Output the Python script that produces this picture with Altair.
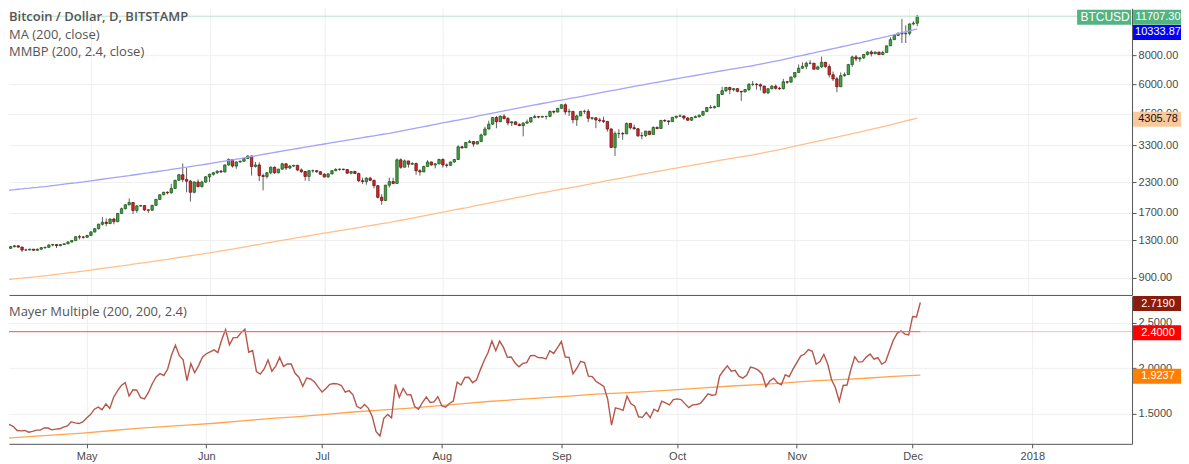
import altair as alt
import pandas as pd

# ---------------- data ----------------
START = "2017-04-09"          # first daily candle
first_open = 1180

close = [
    1200, 1220, 1230, 1215, 1180, 1182, 1190, 1178, 1190, 1208,
    1212, 1240, 1245, 1232, 1245, 1255, 1278, 1295, 1345, 1340,
    1338, 1362, 1410, 1455, 1520, 1550, 1530, 1600, 1560, 1690,
    1770, 1840, 1880, 1740, 1820, 1825, 1750, 1745, 1830, 1940,
    2030, 2080, 2070, 2160, 2340, 2470, 2360, 2320, 2080, 2300,
    2200, 2300, 2420, 2480, 2520, 2560, 2540, 2720, 2870, 2690,
    2800, 2820, 2900, 2970, 2680, 2720, 2450, 2430, 2520, 2660,
    2520, 2610, 2750, 2640, 2690, 2710, 2590, 2550, 2430, 2570,
    2570, 2545, 2480, 2420, 2490, 2570, 2600, 2610, 2600, 2510,
    2550, 2500, 2330, 2310, 2390, 2340, 2220, 1980, 1920, 2230,
    2310, 2270, 2860, 2660, 2830, 2740, 2760, 2570, 2540, 2680,
    2800, 2720, 2750, 2870, 2720, 2710, 2800, 2870, 3250, 3220,
    3390, 3420, 3340, 3420, 3650, 3870, 4060, 4330, 4160, 4390,
    4290, 4110, 4150, 4050, 4000, 4100, 4150, 4330, 4370, 4350,
    4380, 4380, 4600, 4570, 4740, 4910, 4580, 4600, 4240, 4400,
    4600, 4600, 4300, 4320, 4230, 4200, 4170, 3870, 3230, 3700,
    3700, 3690, 4090, 3920, 3880, 3620, 3630, 3790, 3670, 3930,
    3890, 4210, 4190, 4160, 4340, 4390, 4400, 4310, 4220, 4330,
    4370, 4430, 4600, 4780, 4770, 4820, 5430, 5640, 5820, 5690,
    5750, 5600, 5570, 5700, 6000, 6000, 5980, 5900, 5520, 5750,
    5890, 5770, 5750, 6150, 6130, 6450, 6740, 7030, 7160, 7380,
    7380, 6960, 7120, 7450, 7140, 6590, 6330, 5860, 6530, 6600,
    7280, 7850, 7700, 7780, 8040, 8240, 8100, 8230, 8030, 8200,
    8750, 9300, 9700, 9900, 9850, 9900, 10850, 10930, 11707.30,
]

high = [
    1215, 1230, 1240, 1235, 1218, 1195, 1195, 1192, 1196, 1215,
    1220, 1250, 1255, 1250, 1250, 1260, 1285, 1305, 1350, 1370,
    1355, 1370, 1420, 1465, 1530, 1630, 1610, 1610, 1620, 1700,
    1790, 1850, 1960, 1890, 1835, 1840, 1830, 1760, 1840, 1950,
    2040, 2090, 2100, 2260, 2350, 2490, 2760, 2640, 2350, 2320,
    2360, 2330, 2440, 2500, 2540, 2580, 2590, 2730, 2900, 2880,
    2820, 2840, 2910, 2990, 2980, 2800, 2790, 2500, 2540, 2680,
    2680, 2620, 2780, 2770, 2720, 2720, 2720, 2630, 2560, 2590,
    2600, 2590, 2560, 2510, 2510, 2590, 2640, 2630, 2620, 2610,
    2560, 2570, 2520, 2400, 2410, 2420, 2350, 2230, 2040, 2240,
    2400, 2400, 2900, 2900, 2870, 2830, 2790, 2780, 2610, 2700,
    2850, 2810, 2760, 2890, 2900, 2760, 2810, 2880, 3300, 3280,
    3400, 3480, 3430, 3440, 3700, 3960, 4200, 4340, 4400, 4420,
    4480, 4360, 4180, 4180, 4090, 4130, 4250, 4350, 4450, 4380,
    4400, 4400, 4630, 4640, 4760, 4930, 4980, 4720, 4600, 4450,
    4620, 4680, 4700, 4360, 4310, 4320, 4370, 4170, 3900, 3780,
    3860, 3760, 4120, 4100, 4040, 3890, 3750, 3800, 3780, 3970,
    3970, 4230, 4260, 4210, 4360, 4400, 4470, 4420, 4350, 4360,
    4420, 4460, 4620, 4800, 4900, 4870, 5440, 5860, 5840, 5850,
    5790, 5780, 5600, 5730, 6070, 6200, 6080, 6050, 5900, 5760,
    5960, 5990, 5850, 6330, 6180, 6460, 6760, 7300, 7440, 7500,
    7600, 7400, 7210, 7880, 7450, 7300, 6800, 6460, 6740, 6740,
    7330, 7950, 8000, 7850, 8090, 8290, 8370, 8280, 8260, 8340,
    8770, 9520, 9720, 9980, 11400, 10700, 10900, 11150, 11850,
]

low = [
    1175, 1195, 1210, 1205, 1160, 1170, 1175, 1170, 1170, 1185,
    1195, 1205, 1225, 1205, 1225, 1240, 1250, 1270, 1290, 1310,
    1320, 1330, 1355, 1400, 1445, 1500, 1490, 1525, 1520, 1550,
    1680, 1760, 1830, 1680, 1700, 1800, 1730, 1700, 1735, 1820,
    1930, 2020, 2040, 2050, 2150, 2330, 2300, 2080, 1900, 2060,
    2180, 2180, 2280, 2300, 2450, 2490, 2510, 2530, 2700, 2650,
    2620, 2780, 2810, 2880, 2450, 2650, 2320, 2120, 2380, 2480,
    2490, 2500, 2600, 2590, 2610, 2670, 2560, 2510, 2330, 2320,
    2520, 2520, 2470, 2400, 2390, 2480, 2560, 2570, 2580, 2490,
    2480, 2495, 2300, 2260, 2240, 2320, 2160, 1960, 1840, 1910,
    2180, 2250, 2260, 2620, 2660, 2650, 2720, 2470, 2450, 2540,
    2680, 2700, 2630, 2740, 2650, 2650, 2700, 2780, 2860, 3180,
    3220, 3380, 3250, 3330, 3410, 3620, 3850, 4030, 3900, 4140,
    4250, 4010, 3980, 4030, 3980, 3600, 4080, 4120, 4300, 4300,
    4330, 4250, 4350, 4500, 4560, 4730, 4460, 4400, 4090, 3990,
    4400, 4490, 4140, 4230, 3900, 4130, 4100, 3770, 3220, 2970,
    3540, 3480, 3690, 3850, 3850, 3580, 3500, 3580, 3640, 3670,
    3860, 3890, 4140, 4030, 4160, 4280, 4370, 4240, 4200, 4200,
    4320, 4330, 4410, 4560, 4730, 4730, 4810, 5400, 5560, 5450,
    5600, 5550, 5100, 5550, 5620, 5900, 5700, 5650, 5480, 5450,
    5700, 5700, 5680, 5700, 6030, 6110, 6370, 6740, 7000, 6960,
    7300, 6950, 6950, 7050, 7060, 6420, 6200, 5550, 5850, 6470,
    6600, 7120, 7520, 7480, 7700, 7960, 7890, 8100, 8020, 8000,
    8180, 8750, 9300, 9640, 9000, 9000, 9700, 10700, 10600,
]

ma200 = [
    882,
    886, 889, 893, 896, 900, 903, 907, 910, 914, 917,
    921, 926, 930, 934, 939, 943, 947, 951, 956, 960,
    965, 970, 975, 980, 985, 990, 995, 1000, 1005, 1010,
    1016, 1021, 1027, 1032, 1038, 1044, 1049, 1055, 1060, 1066,
    1072, 1078, 1085, 1091, 1097, 1103, 1109, 1116, 1122, 1128, 1134,
    1141, 1149, 1156, 1163, 1170, 1177, 1185, 1192, 1199,
    1207, 1215, 1224, 1232, 1240, 1248, 1256, 1265, 1273, 1281,
    1290, 1298, 1307, 1315, 1324, 1332, 1341, 1349, 1358, 1366,
    1375, 1384, 1392, 1401, 1410, 1419, 1428, 1436, 1445, 1454,
    1463, 1472, 1482, 1491, 1500, 1509, 1518, 1528, 1537, 1546,
    1558, 1569, 1581, 1592, 1604, 1615, 1627, 1638, 1650, 1661,
    1674, 1686, 1699, 1711, 1724, 1736, 1749, 1761, 1774, 1786,
    1800, 1814, 1828, 1842, 1856, 1870, 1884, 1898, 1912, 1926, 1940,
    1955, 1969, 1984, 1998, 2013, 2027, 2042, 2056, 2071,
    2085, 2100, 2114, 2129, 2143, 2158, 2172, 2187, 2201, 2216,
    2232, 2249, 2265, 2282, 2298, 2315, 2331, 2348, 2364, 2381,
    2398, 2415, 2432, 2449, 2466, 2483, 2500, 2517, 2534, 2551,
    2569, 2586, 2604, 2621, 2639, 2656, 2674, 2691, 2709, 2726,
    2745, 2763, 2782, 2800, 2819, 2837, 2856, 2874,
    2892, 2910, 2928, 2946, 2964, 2982, 3000,
    3023, 3046, 3069, 3092, 3115, 3138, 3161,
    3188, 3215, 3242, 3269, 3296, 3323, 3350,
    3378, 3406, 3434, 3462, 3490, 3518, 3546,
    3576, 3606, 3636, 3666, 3696, 3726, 3756,
    3790, 3824, 3858, 3892, 3926, 3960, 3994,
    4033, 4072, 4111, 4150, 4189, 4228, 4267, 4305.78,
]

# smooth orange line of the lower panel, read once a week
mm_avg = [
    1.228, 1.25, 1.27, 1.29, 1.315, 1.34, 1.36, 1.38, 1.40, 1.425,
    1.45, 1.47, 1.495, 1.52, 1.54, 1.56, 1.585, 1.61, 1.635, 1.655,
    1.675, 1.695, 1.715, 1.73, 1.745, 1.765, 1.785, 1.805, 1.82, 1.84,
    1.86, 1.875, 1.89, 1.91, 1.9237,
]

band_mult = 2.4
price_ticks = [900, 1300, 1700, 2300, 3300, 4500, 6000, 8000]
mm_ticks = [1.5, 2.0, 2.5]
legend_top = ["Bitcoin / Dollar, D, BITSTAMP", "MA (200, close)", "MMBP (200, 2.4, close)"]
legend_bottom = "Mayer Multiple (200, 200, 2.4)"
symbol = "BTCUSD"

assert len(close) == len(high) == len(low) == len(ma200)

# ---------------- tables ----------------
EPOCH = pd.Timestamp("1970-01-01")
def to_ms(idx):
    return [int((d - EPOCH) / pd.Timedelta(milliseconds=1)) for d in idx]

dates = pd.date_range(START, periods=len(close), freq="D")
df = pd.DataFrame({
    "t": to_ms(dates),
    "open": [first_open] + close[:-1],
    "high": high,
    "low": low,
    "close": close,
    "ma": ma200,
})
df["high"] = df[["high", "open", "close"]].max(axis=1)
df["low"] = df[["low", "open", "close"]].min(axis=1)
df["band"] = df["ma"] * band_mult
df["mm"] = df["close"] / df["ma"]

avg_df = pd.DataFrame({
    "t": to_ms(pd.date_range(START, periods=len(mm_avg), freq="7D")),
    "v": mm_avg,
})

last = df.iloc[-1]
months = to_ms(pd.date_range("2017-05-01", "2018-01-01", freq="MS"))

base = pd.Timestamp(START)
x_dom = to_ms([base + pd.Timedelta(days=1.887), base + pd.Timedelta(days=292.85)])

# ---------------- styling ----------------
W = 1124
H_TOP = 287
H_BOT = 148
GRID = "#efefef"
AXC = "#555555"
LBL = "#4a4a4a"
FONT = "Liberation Sans"
UP_F, UP_S = "#45a345", "#1f5a1f"
DN_F, DN_S = "#d42a2a", "#6e1212"
TAG_X1, TAG_X2 = 1125, 1173

xscale = alt.Scale(type="utc", domain=x_dom, nice=False)
xaxis_top = alt.Axis(values=months, labels=False, ticks=False, grid=True,
                     gridColor=GRID, domainColor=AXC, orient="bottom")
xaxis_bot = alt.Axis(values=months, grid=True, gridColor=GRID, domainColor=AXC,
                     tickColor=AXC, tickSize=4, labelColor=LBL, labelFontSize=11,
                     labelFont=FONT, labelPadding=3, labelFlush=False,
                     labelExpr="utcFormat(datum.value, utcmonth(datum.value) == 0 ? '%Y' : '%b')",
                     orient="bottom")
x_top = alt.X("t:T", scale=xscale, title=None, axis=xaxis_top)
x_bot = alt.X("t:T", scale=xscale, title=None, axis=xaxis_bot)

yscale_top = alt.Scale(type="log", domain=[759.6, 12664], nice=False, zero=False)
yaxis_top = alt.Axis(orient="right", values=price_ticks, format=".2f", grid=True, gridColor=GRID,
                     domainColor=AXC, tickColor=AXC, tickSize=4, labelColor=LBL,
                     labelFontSize=11, labelFont=FONT, labelPadding=2, title=None)
yscale_bot = alt.Scale(domain=[1.1718, 2.791], nice=False, zero=False)
yaxis_bot = alt.Axis(orient="right", values=mm_ticks, format=".4f", grid=True, gridColor=GRID,
                     domainColor=AXC, tickColor=AXC, tickSize=4, labelColor=LBL,
                     labelFontSize=11, labelFont=FONT, labelPadding=2, title=None)

def yt(field):
    return alt.Y(field, scale=yscale_top, axis=yaxis_top, title=None)

def yb(field):
    return alt.Y(field, scale=yscale_bot, axis=yaxis_bot, title=None)

# ---------------- top panel ----------------
src = alt.Chart(df)
wicks = src.mark_rule(color="#5f5f5f", strokeWidth=1, clip=True).encode(
    x=x_top, y=yt("low:Q"), y2="high:Q")
up_cond = "datum.close >= datum.open"
bodies = src.mark_bar(size=2.4, strokeWidth=0.8, clip=True).encode(
    x=x_top, y=yt("open:Q"), y2="close:Q",
    fill=alt.condition(up_cond, alt.value(UP_F), alt.value(DN_F)),
    stroke=alt.condition(up_cond, alt.value(UP_S), alt.value(DN_S)))
ma_line = src.mark_line(color="#ffc08c", strokeWidth=1.3, clip=True).encode(x=x_top, y=yt("ma:Q"))
band_line = src.mark_line(color="#a3a3f7", strokeWidth=1.3, clip=True).encode(x=x_top, y=yt("band:Q"))

price_df = pd.DataFrame({"v": [last["close"]]})
price_line = alt.Chart(price_df).mark_rule(color="#b4e4cb", strokeWidth=1).encode(y=yt("v:Q"))

def tag(value, text, bg, fg, x1, x2, yoff=0.0, fs=11):
    d = pd.DataFrame({"v": [value], "txt": [text]})
    box = alt.Chart(d).mark_rect(color=bg, yOffset=yoff - 7.5, y2Offset=yoff + 7.5).encode(
        y=alt.Y("v:Q"), y2=alt.Y2("v:Q"), x=alt.value(x1), x2=alt.value(x2))
    lab = alt.Chart(d).mark_text(color=fg, fontSize=fs, font=FONT, align="center",
                                 baseline="middle", yOffset=yoff).encode(
        y=alt.Y("v:Q"), x=alt.value((x1 + x2) / 2 + 1), text="txt:N")
    return box, lab

tags_top = []
tags_top += tag(last["close"], f"{last['close']:.2f}", "#53b483", "white", TAG_X1, TAG_X2, 1.0)
tags_top += tag(last["band"], f"{last['band']:.2f}", "#0000ff", "white", TAG_X1, TAG_X2, 3.5)
tags_top += tag(last["ma"], f"{last['ma']:.2f}", "#f9c89c", "#111111", TAG_X1, TAG_X2, 1.0)
tags_top += tag(last["close"], symbol, "#53b483", "white", 1069, 1123, 1.0, 12)

legend_layers = []
for i, txt in enumerate(legend_top):
    legend_layers.append(
        alt.Chart(pd.DataFrame({"txt": [txt]})).mark_text(
            align="left", baseline="middle", fontSize=13, font="Open Sans",
            fontWeight=600 if i == 0 else 400, color="#555555").encode(
            x=alt.value(0), y=alt.value(9 + 17.5 * i), text="txt:N"))

top = alt.layer(wicks, bodies, ma_line, band_line, price_line, *tags_top, *legend_layers).properties(
    width=W, height=H_TOP)

# ---------------- bottom panel ----------------
mm_line = src.mark_line(color="#b5574b", strokeWidth=1.4, clip=True).encode(x=x_bot, y=yb("mm:Q"))
avg_line = alt.Chart(avg_df).mark_line(color="#ffa54f", strokeWidth=1.3, clip=True).encode(
    x=x_bot, y=yb("v:Q"))
lvl_df = pd.DataFrame({"v": [band_mult]})
lvl_faint = alt.Chart(lvl_df).mark_rule(color="#ffb8b8", strokeWidth=1).encode(y=yb("v:Q"))
seg_df = pd.DataFrame({"t0": [int(df["t"].iloc[0])], "t1": [int(df["t"].iloc[-1])], "v": [band_mult]})
lvl_line = alt.Chart(seg_df).mark_rule(color="#ff5f5f", strokeWidth=1, clip=True).encode(
    x=alt.X("t0:T", scale=xscale, title=None, axis=xaxis_bot), x2="t1:T", y=yb("v:Q"))

tags_bot = []
tags_bot += tag(last["mm"], f"{last['mm']:.4f}", "#8b1b0d", "white", TAG_X1, TAG_X2, 1.0)
tags_bot += tag(band_mult, f"{band_mult:.4f}", "#ff0000", "white", TAG_X1, TAG_X2, 1.0)
tags_bot += tag(mm_avg[-1], f"{mm_avg[-1]:.4f}", "#ff7f00", "white", TAG_X1, TAG_X2, 1.0)

leg_b = alt.Chart(pd.DataFrame({"txt": [legend_bottom]})).mark_text(
    align="left", baseline="middle", fontSize=13, font="Open Sans", color="#555555").encode(
    x=alt.value(0), y=alt.value(16), text="txt:N")

bottom = alt.layer(avg_line, mm_line, lvl_faint, lvl_line, *tags_bot, leg_b).properties(
    width=W, height=H_BOT)

chart = alt.vconcat(top, bottom, spacing=1, bounds="flush", padding=0).configure_view(
    stroke=None).configure_axis(domainWidth=1)

chart.save("out.html", embed_options={"renderer": "svg", "actions": False})
